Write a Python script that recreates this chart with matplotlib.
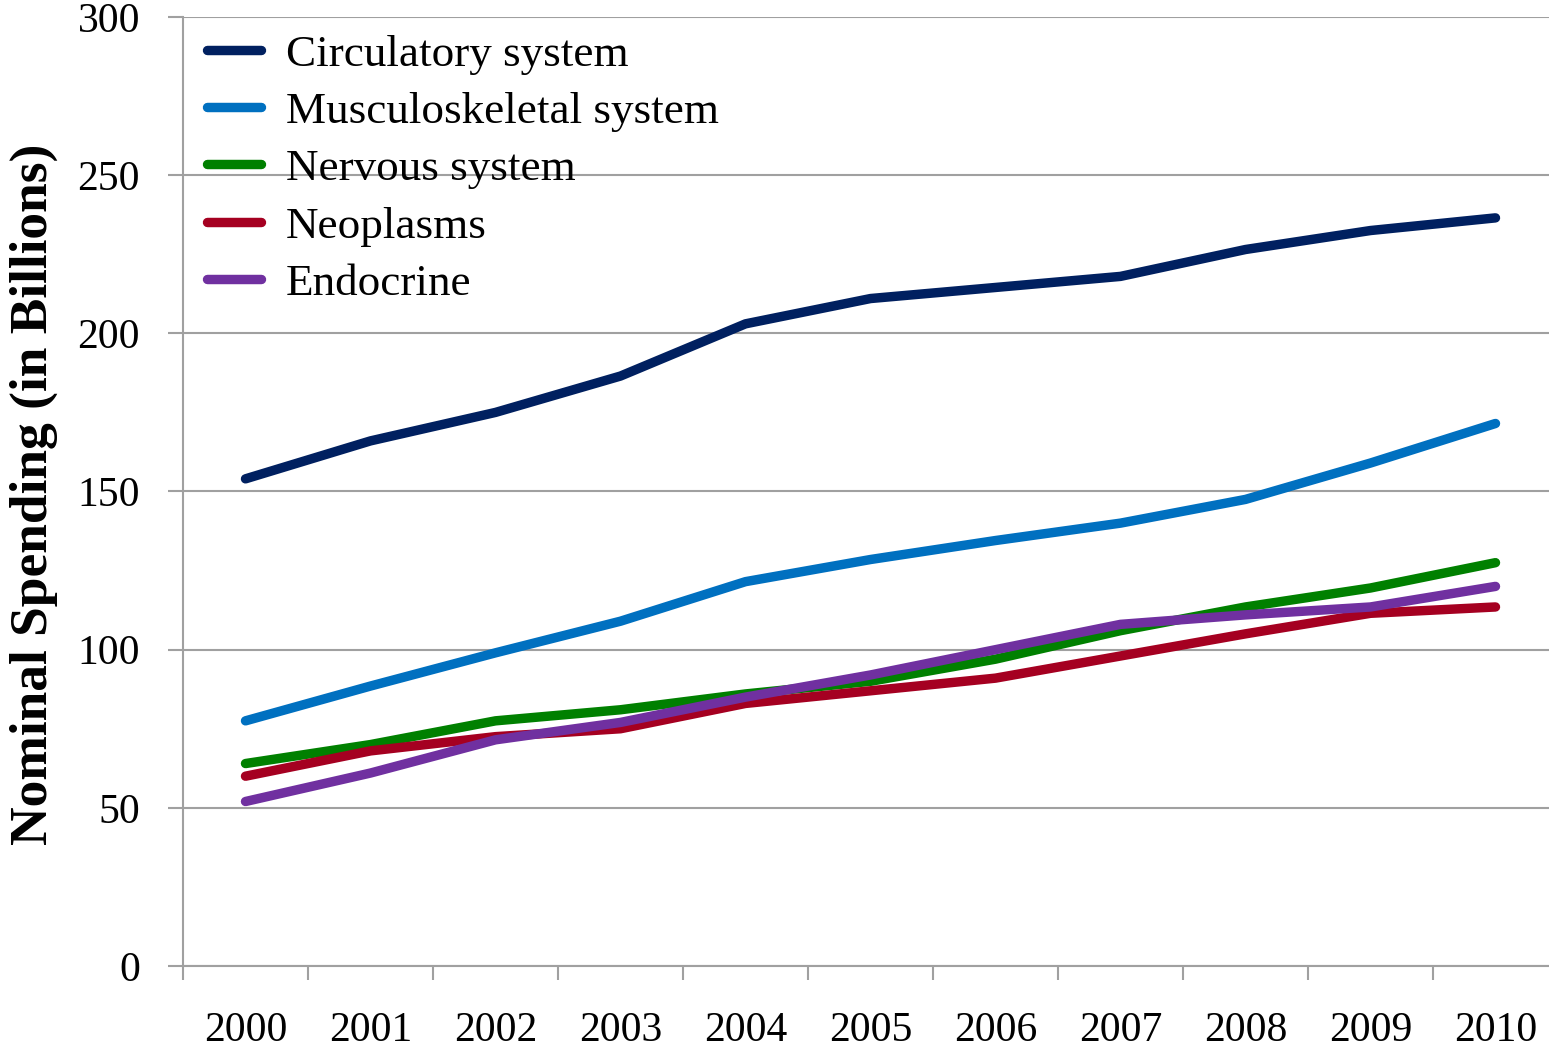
import matplotlib
matplotlib.use("Agg")
import matplotlib.pyplot as plt
import numpy as np

# spending by diagnosis category
years = ["2000", "2001", "2002", "2003", "2004", "2005",
         "2006", "2007", "2008", "2009", "2010"]
circulatory = [154, 166, 175, 186.5, 203, 211, 214.5, 218, 226.5, 232.5, 236.5]
musculoskeletal = [77.5, 88.5, 99, 109, 121.5, 128.5, 134.5, 140, 147.5, 159, 171.5]
nervous = [64, 70, 77.5, 81, 86, 90, 97, 106, 113.5, 119.5, 127.5]
neoplasms = [60, 68, 72.5, 75, 83, 87, 91, 98, 105, 111.5, 113.5]
endocrine = [52, 61, 71.5, 77, 85, 92, 100, 108, 111, 113.5, 120]

series_names = ["Circulatory system", "Musculoskeletal system", "Nervous system",
                "Neoplasms", "Endocrine"]
colors = ["#002060", "#0070C0", "#008000", "#A50021", "#7030A0"]

plt.rcParams['font.family'] = ['Liberation Serif', 'DejaVu Serif']

W, H = 1549, 1053
fig = plt.figure(figsize=(W / 100, H / 100), dpi=100)
# axes runs past the right edge of the picture, like the reference
ax = fig.add_axes([183 / W, 87 / H, 1375 / W, 949 / H])

x = np.arange(len(years))
for vals, name, c in zip([circulatory, musculoskeletal, nervous, neoplasms, endocrine],
                         series_names, colors):
    ax.plot(x, vals, color=c, lw=6.8, solid_capstyle='round',
            solid_joinstyle='round', label=name, zorder=3)

grey = "#A0A0A0"
ax.set_xlim(-0.5, 10.5)
ax.set_ylim(0, 300)
ax.set_yticks(range(0, 301, 50))
ax.yaxis.grid(True, color=grey, lw=1.5)
ax.set_axisbelow(True)

ax.set_xticks(x)
ax.set_xticklabels(years)
ax.set_xticks(np.arange(-0.5, 11, 1), minor=True)
ax.tick_params(axis='x', which='major', length=0, pad=33, labelsize=30)
ax.tick_params(axis='x', which='minor', length=10, width=1.5, color=grey)
ax.tick_params(axis='y', length=11, width=1.5, color=grey, pad=20, labelsize=30)

for s in ['top', 'right']:
    ax.spines[s].set_visible(False)
for s in ['left', 'bottom']:
    ax.spines[s].set_color(grey)
    ax.spines[s].set_linewidth(1.5)

fig.text(34 / W, (H - 494) / H, "Nominal Spending (in Billions)", rotation=90,
         fontsize=38.5, fontweight='bold', ha='center', va='center')

leg = ax.legend(loc='upper left', bbox_to_anchor=((207 - 183) / 1375, 0.982),
                frameon=False, fontsize=32.5, handlelength=1.2, handletextpad=0.55,
                labelspacing=0.37, borderpad=0, borderaxespad=0)

fig.savefig("out.png", dpi=100)
